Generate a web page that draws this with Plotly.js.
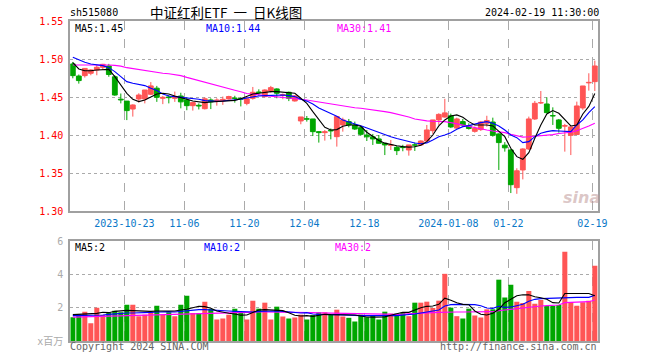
<!DOCTYPE html>
<html>
<head>
<meta charset="utf-8">
<script src="https://cdn.plot.ly/plotly-3.0.1.min.js"></script>
<style>html,body{margin:0;padding:0;background:#fff;}#chart{width:660px;height:360px;}</style>
</head>
<body>
<div id="chart"></div>
<script>
// ---- data ----
const opens = [1.4939,1.4780,1.4785,1.4816,1.4860,1.4895,1.4912,1.4770,1.4475,1.4450,
1.4346,1.4478,1.4478,1.4540,1.4620,1.4487,1.4505,1.4487,1.4517,1.4465,
1.4390,1.4395,1.4350,1.4465,1.4450,1.4455,1.4478,1.4490,1.4485,1.4420,
1.4487,1.4570,1.4509,1.4583,1.4610,1.4525,1.4566,1.4452,1.4189,1.4218,
1.4215,1.4048,1.4035,1.4065,1.3982,1.4136,1.4180,1.4136,1.4100,1.4004,
1.3980,1.3952,1.3895,1.3868,1.3842,1.3845,1.3807,1.3875,1.3873,1.3925,
1.4061,1.4202,1.4240,1.4256,1.4095,1.4180,1.4125,1.4052,1.4075,1.4158,
1.4175,1.4018,1.3870,1.3807,1.3311,1.3544,1.3820,1.4215,1.4425,1.4412,
1.4259,1.4202,1.4120,1.4000,1.4010,1.4360,1.4690,1.4706];
const highs = [1.4965,1.4800,1.4880,1.4870,1.4925,1.4940,1.4940,1.4790,1.4550,1.4450,
1.4408,1.4553,1.4596,1.4700,1.4650,1.4518,1.4530,1.4575,1.4560,1.4500,
1.4440,1.4420,1.4500,1.4487,1.4487,1.4510,1.4520,1.4520,1.4500,1.4505,
1.4636,1.4605,1.4605,1.4650,1.4618,1.4550,1.4575,1.4530,1.4241,1.4254,
1.4215,1.4048,1.4070,1.4090,1.4246,1.4232,1.4215,1.4180,1.4123,1.4070,
1.4018,1.4004,1.3895,1.3939,1.3860,1.3875,1.3873,1.3904,1.3934,1.4136,
1.4202,1.4290,1.4480,1.4285,1.4232,1.4215,1.4158,1.4115,1.4189,1.4257,
1.4232,1.4026,1.3910,1.3820,1.3566,1.3829,1.4246,1.4452,1.4583,1.4500,
1.4368,1.4215,1.4150,1.4115,1.4443,1.4649,1.4816,1.4982];
const lows = [1.4750,1.4680,1.4760,1.4790,1.4790,1.4860,1.4770,1.4520,1.4420,1.4200,
1.4246,1.4430,1.4420,1.4530,1.4440,1.4410,1.4420,1.4440,1.4355,1.4330,
1.4325,1.4340,1.4340,1.4345,1.4390,1.4400,1.4470,1.4430,1.4380,1.4395,
1.4470,1.4520,1.4500,1.4560,1.4487,1.4475,1.4450,1.4443,1.4145,1.4180,
1.3990,1.3904,1.3930,1.3947,1.3851,1.4048,1.4105,1.4070,1.3996,1.3925,
1.3873,1.3895,1.3740,1.3807,1.3740,1.3790,1.3732,1.3794,1.3864,1.3917,
1.4018,1.4136,1.4232,1.4095,1.4085,1.4114,1.4075,1.4035,1.4057,1.4114,
1.3982,1.3544,1.3785,1.3240,1.3230,1.3420,1.3807,1.4202,1.4412,1.4290,
1.4136,1.4035,1.3785,1.3740,1.4005,1.4335,1.4588,1.4583];
const closes = [1.4785,1.4720,1.4880,1.4860,1.4895,1.4934,1.4800,1.4530,1.4465,1.4325,
1.4399,1.4530,1.4596,1.4650,1.4500,1.4500,1.4495,1.4510,1.4440,1.4390,
1.4430,1.4385,1.4480,1.4440,1.4465,1.4473,1.4510,1.4485,1.4475,1.4480,
1.4566,1.4562,1.4596,1.4627,1.4553,1.4535,1.4487,1.4518,1.4241,1.4212,
1.4048,1.4035,1.4048,1.4057,1.4246,1.4202,1.4136,1.4083,1.4013,1.3980,
1.3952,1.3895,1.3873,1.3875,1.3798,1.3838,1.3873,1.3870,1.3925,1.4070,
1.4202,1.4275,1.4295,1.4110,1.4215,1.4134,1.4090,1.4092,1.4175,1.4195,
1.4000,1.3904,1.3835,1.3350,1.3533,1.3820,1.4215,1.4421,1.4430,1.4298,
1.4254,1.4092,1.4128,1.4110,1.4386,1.4649,1.4697,1.4912];
const volumes = [1.43,1.58,1.76,1.07,2.00,1.56,1.70,1.82,1.72,2.18,
2.18,1.49,1.58,1.76,2.12,1.58,1.72,1.49,2.18,2.71,
1.68,1.68,2.36,1.92,1.29,1.35,1.58,1.94,1.68,1.29,
2.42,1.94,2.30,1.29,2.06,1.47,1.35,1.41,1.58,1.29,
1.56,1.72,1.72,1.62,1.88,1.47,1.39,1.17,1.58,1.43,
1.56,1.29,1.76,1.64,1.64,1.70,1.49,2.30,2.30,2.36,
1.98,2.42,4.03,2.00,1.49,1.35,1.94,1.53,1.41,1.90,
1.90,3.68,2.61,3.37,2.36,2.28,3.00,2.24,2.46,2.10,
2.10,2.16,5.35,2.34,2.12,2.32,2.42,4.51];
const ma5 = [1.4956,1.4873,1.4850,1.4850,1.4860,1.4868,1.4868,1.4772,1.4662,1.4553,
1.4474,1.4443,1.4465,1.4509,1.4544,1.4553,1.4544,1.4518,1.4500,1.4474,
1.4452,1.4443,1.4430,1.4439,1.4443,1.4447,1.4452,1.4460,1.4480,1.4509,
1.4544,1.4553,1.4566,1.4575,1.4575,1.4570,1.4561,1.4553,1.4487,1.4420,
1.4311,1.4202,1.4105,1.4070,1.4075,1.4118,1.4136,1.4136,1.4118,1.4040,
1.3985,1.3932,1.3897,1.3878,1.3862,1.3851,1.3845,1.3850,1.3870,1.3917,
1.4004,1.4123,1.4202,1.4254,1.4268,1.4237,1.4180,1.4136,1.4136,1.4136,
1.4123,1.4048,1.3982,1.3829,1.3719,1.3684,1.3772,1.3960,1.4136,1.4281,
1.4325,1.4290,1.4202,1.4123,1.4136,1.4280,1.4380,1.4550];
const ma10 = [1.5026,1.4990,1.4960,1.4939,1.4925,1.4917,1.4890,1.4838,1.4772,1.4706,
1.4684,1.4670,1.4654,1.4618,1.4588,1.4544,1.4518,1.4509,1.4500,1.4500,
1.4487,1.4474,1.4456,1.4447,1.4447,1.4452,1.4456,1.4463,1.4474,1.4490,
1.4509,1.4518,1.4522,1.4526,1.4526,1.4530,1.4522,1.4509,1.4474,1.4450,
1.4412,1.4360,1.4322,1.4290,1.4250,1.4200,1.4170,1.4150,1.4125,1.4095,
1.4070,1.4042,1.4010,1.3980,1.3958,1.3935,1.3917,1.3898,1.3888,1.3900,
1.3939,1.3982,1.4004,1.4035,1.4079,1.4114,1.4127,1.4149,1.4167,1.4180,
1.4158,1.4123,1.4070,1.4004,1.3969,1.3904,1.3917,1.3982,1.4026,1.4048,
1.4061,1.4057,1.4048,1.4048,1.4136,1.4202,1.4298,1.4377];
const ma30 = [1.4925,1.4925,1.4928,1.4930,1.4930,1.4930,1.4925,1.4920,1.4910,1.4890,
1.4877,1.4868,1.4855,1.4838,1.4825,1.4816,1.4810,1.4800,1.4785,1.4762,
1.4742,1.4724,1.4702,1.4682,1.4660,1.4638,1.4614,1.4594,1.4572,1.4550,
1.4540,1.4532,1.4526,1.4518,1.4510,1.4502,1.4498,1.4490,1.4480,1.4465,
1.4452,1.4439,1.4422,1.4408,1.4392,1.4380,1.4370,1.4362,1.4355,1.4346,
1.4335,1.4325,1.4311,1.4298,1.4282,1.4260,1.4240,1.4215,1.4200,1.4190,
1.4185,1.4183,1.4180,1.4167,1.4150,1.4136,1.4114,1.4100,1.4088,1.4070,
1.4057,1.4048,1.4035,1.4013,1.3991,1.3976,1.3980,1.3987,1.3990,1.4000,
1.4009,1.4024,1.4030,1.4040,1.4061,1.4088,1.4123,1.4158];
const vma5 = [1.58,1.60,1.62,1.62,1.66,1.72,1.70,1.78,1.82,1.84,
1.82,1.80,1.76,1.78,1.80,1.80,1.78,1.80,1.86,1.90,
2.00,2.08,2.06,1.96,1.80,1.72,1.66,1.62,1.55,1.56,
1.70,1.86,1.88,1.86,1.88,1.82,1.70,1.54,1.50,1.52,
1.48,1.52,1.60,1.58,1.58,1.58,1.58,1.56,1.50,1.44,
1.43,1.43,1.45,1.55,1.65,1.72,1.72,1.85,2.00,2.08,
2.10,2.20,2.57,2.45,2.30,2.20,2.18,1.80,1.60,1.56,
1.66,1.90,2.30,2.50,2.72,2.77,2.77,2.65,2.60,2.50,
2.30,2.28,2.85,2.85,2.85,2.85,2.85,2.72];
const vma10 = [1.52,1.52,1.53,1.53,1.55,1.56,1.60,1.64,1.66,1.68,
1.68,1.68,1.70,1.72,1.74,1.76,1.76,1.74,1.78,1.84,
1.86,1.88,1.88,1.87,1.85,1.84,1.80,1.78,1.76,1.72,
1.74,1.78,1.80,1.80,1.80,1.78,1.75,1.73,1.68,1.70,
1.62,1.60,1.58,1.58,1.58,1.57,1.54,1.52,1.52,1.52,
1.51,1.50,1.50,1.52,1.52,1.54,1.56,1.62,1.68,1.74,
1.76,1.86,2.10,2.18,2.20,2.20,2.20,2.18,2.12,1.98,
1.96,2.08,2.02,2.04,2.12,2.20,2.38,2.50,2.54,2.56,
2.56,2.56,2.62,2.62,2.62,2.62,2.62,2.74];
const vma30 = [1.43,1.44,1.45,1.46,1.47,1.48,1.50,1.52,1.54,1.55,
1.56,1.57,1.57,1.58,1.59,1.60,1.60,1.61,1.62,1.64,
1.66,1.68,1.69,1.70,1.70,1.71,1.72,1.72,1.73,1.73,
1.74,1.74,1.74,1.74,1.74,1.74,1.74,1.73,1.72,1.71,
1.70,1.69,1.68,1.67,1.66,1.65,1.64,1.63,1.62,1.61,
1.60,1.60,1.60,1.60,1.60,1.61,1.62,1.64,1.66,1.68,
1.70,1.72,1.74,1.74,1.74,1.74,1.74,1.74,1.74,1.75,
1.76,1.82,1.86,1.90,1.96,2.00,2.06,2.08,2.10,2.12,
2.14,2.16,2.30,2.32,2.33,2.34,2.36,2.46];
const tickIdx = [9,19,29,39,49,63,73,87];
const tickLabels = ['2023-10-23','11-06','11-20','12-04','12-18','2024-01-08','01-22','02-19'];
const priceTicks = [1.30,1.35,1.40,1.45,1.50,1.55];
const volTicks = [0,2,4,6];
const volTickLabels = ['x百万','2','4','6'];

// ---- styling ----
const RED = '#ff5555', GREEN = '#00a600';
const MONO = 'DejaVu Sans Mono, monospace';
const CJK = 'Noto Sans CJK SC, sans-serif';
const W = 660, H = 360;
const px = v => v / W, py = v => 1 - v / H;

const idx = opens.map((_, i) => i);
const up = closes.map((c, i) => c >= opens[i]);
const bodyColors = up.map(u => u ? RED : GREEN);
const bodyLineColors = up.map(u => u ? RED : GREEN);
const volColors = up.map(u => u ? RED : GREEN);

function wick(flag) {
  const xs = [], ys = [];
  idx.forEach(i => { if (up[i] === flag) { xs.push(i, i, null); ys.push(lows[i], highs[i], null); } });
  return {type: 'scatter', mode: 'lines', x: xs, y: ys, xaxis: 'x', yaxis: 'y',
    line: {color: flag ? RED : GREEN, width: 1}, hoverinfo: 'skip'};
}

const LW = 1.1;
const traces = [
  wick(true), wick(false),
  {type: 'bar', x: idx, base: opens.map((o, i) => Math.min(o, closes[i])),
   y: opens.map((o, i) => Math.abs(closes[i] - o)), width: 0.8, xaxis: 'x', yaxis: 'y',
   marker: {color: bodyColors, line: {color: bodyLineColors, width: 1}}, hoverinfo: 'skip'},
  {type: 'scatter', mode: 'lines', x: idx, y: ma30, line: {color: '#ff00ff', width: LW}, xaxis: 'x', yaxis: 'y'},
  {type: 'scatter', mode: 'lines', x: idx, y: ma10, line: {color: '#0000ff', width: LW}, xaxis: 'x', yaxis: 'y'},
  {type: 'scatter', mode: 'lines', x: idx, y: ma5, line: {color: '#000000', width: LW}, xaxis: 'x', yaxis: 'y'},
  {type: 'bar', x: idx.slice(), y: volumes, width: 0.84, xaxis: 'x2', yaxis: 'y2',
   marker: {color: volColors, line: {width: 0}}, hoverinfo: 'skip'},
  {type: 'scatter', mode: 'lines', x: idx, y: vma30, line: {color: '#ff00ff', width: LW}, xaxis: 'x2', yaxis: 'y2'},
  {type: 'scatter', mode: 'lines', x: idx, y: vma10, line: {color: '#0000ff', width: LW}, xaxis: 'x2', yaxis: 'y2'},
  {type: 'scatter', mode: 'lines', x: idx, y: vma5, line: {color: '#000000', width: LW}, xaxis: 'x2', yaxis: 'y2'}
];

const gridTicks = tickIdx.map(i => i - 0.4);
const xdom = [px(70.3), px(598.3)];
const axisLine = {showline: true, mirror: true, linecolor: '#a0a0a0', linewidth: 2, zeroline: false};

function ann(text, x, y, color, size, anchor, family) {
  return {text: text, x: px(x), y: py(y), xref: 'paper', yref: 'paper', showarrow: false,
    xanchor: anchor || 'left', yanchor: 'middle', font: {family: family || MONO, size: size || 10, color: color}};
}

const layout = {
  width: W, height: H, margin: {l: 0, r: 0, t: 0, b: 0},
  paper_bgcolor: '#ffffff', plot_bgcolor: '#ffffff', showlegend: false, hovermode: false,
  barmode: 'overlay', font: {family: MONO, size: 10},
  xaxis: Object.assign({domain: xdom, anchor: 'y', range: [-0.42, 87.58], tickmode: 'array',
    tickvals: gridTicks, ticktext: tickLabels, ticks: '', showgrid: true, gridcolor: '#aaaaaa',
    griddash: 'dash', gridwidth: 1.5, tickfont: {family: MONO, size: 10, color: '#0a78c8'},
    ticklabelstandoff: 2}, axisLine),
  yaxis: Object.assign({domain: [py(211.3), py(21.3)], anchor: 'x', range: [1.30, 1.55], tickmode: 'array',
    tickvals: priceTicks, ticktext: priceTicks.map(v => v.toFixed(2)), ticks: '', showgrid: true,
    gridcolor: '#aaaaaa', griddash: 'dot', gridwidth: 1.5,
    tickfont: {family: MONO, size: 10, color: '#ff0000'}, ticklabelstandoff: 3}, axisLine),
  xaxis2: Object.assign({domain: xdom, anchor: 'y2', matches: 'x', range: [-0.42, 87.58], tickmode: 'array',
    tickvals: gridTicks, showticklabels: false, ticks: '', showgrid: true, gridcolor: '#aaaaaa',
    griddash: 'dash', gridwidth: 1.5}, axisLine),
  yaxis2: Object.assign({domain: [py(341), py(241)], anchor: 'x2', range: [0, 6], tickmode: 'array',
    tickvals: volTicks, ticktext: volTickLabels, ticks: '', showgrid: true, gridcolor: '#aaaaaa',
    griddash: 'dot', gridwidth: 1.5,
    tickfont: {family: 'DejaVu Sans Mono, Noto Sans CJK SC, monospace', size: 10, color: '#aaaaaa'},
    ticklabelstandoff: 3}, axisLine),
  annotations: [
    ann('sh515080', 68, 13, '#000'),
    ann('中证红利ETF\u00a0\u00a0一\u00a0\u00a0日K线图', 148, 12.5, '#000', 13.5, 'left', CJK),
    ann('2024-02-19 11:30:00', 601, 13, '#000', 10, 'right'),
    ann('MA5:1.45', 73, 28.5, '#000'),
    ann('MA10:1.44', 204, 28.5, '#0000ff'),
    ann('MA30:1.41', 335, 28.5, '#ff00ff'),
    ann('MA5:2', 73, 247, '#000'),
    ann('MA10:2', 202, 247, '#0000ff'),
    ann('MA30:2', 333, 247, '#ff00ff'),
    ann('Copyright 2024 SINA.COM', 68, 346, '#666666'),
    ann('http://finance.sina.com.cn', 599, 346, '#666666', 10, 'right'),
    {text: '<b><i>sina</i></b>', x: px(581), y: py(197), xref: 'paper', yref: 'paper', showarrow: false,
     xanchor: 'center', yanchor: 'middle', font: {family: 'DejaVu Sans', size: 16, color: 'rgba(190,150,150,0.55)'}}
  ]
};

Plotly.newPlot('chart', traces, layout, {staticPlot: true, displayModeBar: false});
</script>
</body>
</html>
